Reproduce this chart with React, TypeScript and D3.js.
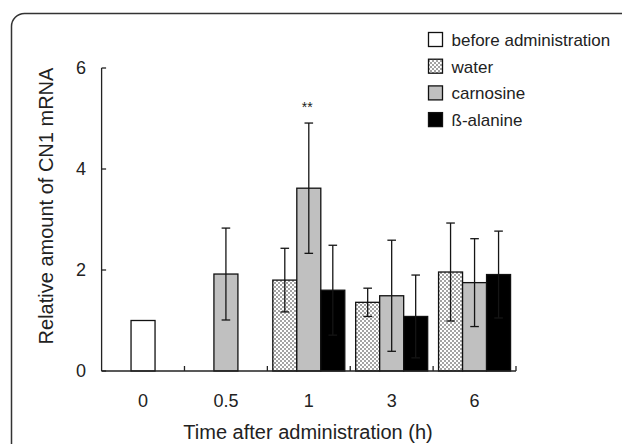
import React from "react";
import * as d3 from "d3";

const categories = ["0", "0.5", "1", "3", "6"];
const seriesNames = ["before administration", "water", "carnosine", "ß-alanine"];
const beforeValues = [1.0, null, null, null, null];
const beforeErrors = [null, null, null, null, null];
const waterValues = [null, null, 1.8, 1.36, 1.96];
const waterErrors = [null, null, 0.63, 0.28, 0.97];
const carnosineValues = [null, 1.92, 3.62, 1.49, 1.75];
const carnosineErrors = [null, 0.91, 1.29, 1.1, 0.87];
const alanineValues = [null, null, 1.6, 1.08, 1.91];
const alanineErrors = [null, null, 0.89, 0.82, 0.86];
const yTicks = [0, 2, 4, 6];
const significance = [{ category: "1", series: "carnosine", label: "**" }];

const W = 622;
const H = 444;
const FONT = "'Liberation Sans', Arial, Helvetica, sans-serif";

type Series = { name: string; values: (number | null)[]; errors: (number | null)[]; fill: string };

export default function App() {
  const series: Series[] = [
    { name: seriesNames[0], values: beforeValues, errors: beforeErrors, fill: "#ffffff" },
    { name: seriesNames[1], values: waterValues, errors: waterErrors, fill: "url(#dots)" },
    { name: seriesNames[2], values: carnosineValues, errors: carnosineErrors, fill: "#c0c0c0" },
    { name: seriesNames[3], values: alanineValues, errors: alanineErrors, fill: "#000000" },
  ];

  const x0 = 101.6;
  const x1 = 516;
  const yBase = 371;
  const yTop = 68;
  const x = d3.scaleBand<string>().domain(categories).range([x0, x1]).padding(0);
  const y = d3.scaleLinear().domain([0, 6]).range([yBase, yTop]);
  const barW = 24;

  const bars: any[] = [];
  const errs: any[] = [];
  const stars: any[] = [];
  categories.forEach((cat, ci) => {
    const present = series.filter((s) => s.values[ci] != null);
    const c = (x(cat) as number) + x.bandwidth() / 2;
    const inner = d3
      .scaleBand<string>()
      .domain(present.map((s) => s.name))
      .range([c - (present.length * barW) / 2, c + (present.length * barW) / 2]);
    present.forEach((s) => {
      const v = s.values[ci] as number;
      const bx = inner(s.name) as number;
      bars.push(
        <rect
          key={`b-${cat}-${s.name}`}
          x={bx}
          y={y(v)}
          width={inner.bandwidth()}
          height={yBase - y(v)}
          fill={s.fill}
          stroke="#111"
          strokeWidth={1.3}
        />
      );
      const e = s.errors[ci];
      const cx = bx + inner.bandwidth() / 2;
      if (e != null) {
        errs.push(
          <g key={`e-${cat}-${s.name}`} stroke="#151515" strokeWidth={1.3} fill="none">
            <line x1={cx} x2={cx} y1={y(v + e)} y2={y(v - e)} />
            <line x1={cx - 4.3} x2={cx + 4.3} y1={y(v + e)} y2={y(v + e)} />
            <line x1={cx - 4.3} x2={cx + 4.3} y1={y(v - e)} y2={y(v - e)} />
          </g>
        );
      }
      significance
        .filter((sg) => sg.category === cat && sg.series === s.name.split(" ")[0])
        .forEach((sg) => {
          stars.push(
            <text
              key={`s-${cat}`}
              x={cx - 1.5}
              y={y(v + (e ?? 0)) - 11}
              textAnchor="middle"
              fontSize={14}
              fontFamily={FONT}
              fill="#222"
            >
              {sg.label}
            </text>
          );
        });
    });
  });

  return (
    <div style={{ position: "absolute", left: 0, top: 0, width: W, height: H, background: "#fff" }}>
      <svg width={W} height={H} viewBox={`0 0 ${W} ${H}`} style={{ display: "block" }}>
        <defs>
          <pattern id="dots" patternUnits="userSpaceOnUse" width={4} height={4}>
            <rect width={4} height={4} fill="#fff" />
            <rect x={0.3} y={0.3} width={1.4} height={1.4} fill="#444" />
            <rect x={2.3} y={2.3} width={1.4} height={1.4} fill="#444" />
          </pattern>
        </defs>
        <rect x={0} y={0} width={W} height={H} fill="#fff" />
        <rect x={11.5} y={13.5} width={700} height={600} rx={13} ry={13} fill="none" stroke="#333" strokeWidth={1.5} />

        {bars}
        {errs}
        {stars}

        {/* y axis */}
        <line x1={x0} x2={x0} y1={yTop} y2={yBase} stroke="#222" strokeWidth={1.3} />
        {yTicks.map((t) => (
          <g key={`yt-${t}`}>
            <line x1={x0} x2={x0 + 4.5} y1={y(t)} y2={y(t)} stroke="#222" strokeWidth={1.3} />
            <text
              x={86}
              y={y(t)}
              dy="0.36em"
              textAnchor="end"
              fontSize={18}
              fontFamily={FONT}
              fill="#222"
            >
              {t}
            </text>
          </g>
        ))}

        {/* x axis */}
        <line x1={x0} x2={x1} y1={yBase} y2={yBase} stroke="#222" strokeWidth={1.3} />
        {categories.map((cat) => (
          <g key={`xt-${cat}`}>
            <line
              x1={(x(cat) as number) + x.bandwidth()}
              x2={(x(cat) as number) + x.bandwidth()}
              y1={yBase}
              y2={yBase - 5}
              stroke="#222"
              strokeWidth={1.3}
            />
            <text
              x={(x(cat) as number) + x.bandwidth() / 2}
              y={407}
              textAnchor="middle"
              fontSize={18}
              fontFamily={FONT}
              fill="#222"
            >
              {cat}
            </text>
          </g>
        ))}

        <text x={308} y={439} textAnchor="middle" fontSize={20} fontFamily={FONT} fill="#222">
          Time after administration (h)
        </text>
        <text
          transform={`translate(53,206) rotate(-90)`}
          textAnchor="middle"
          fontSize={20}
          fontFamily={FONT}
          fill="#222"
        >
          Relative amount of CN1 mRNA
        </text>

        {/* legend */}
        {series.map((s, i) => {
          const top = 32.5 + i * 26.7;
          return (
            <g key={`lg-${s.name}`}>
              <rect x={428.5} y={top} width={14} height={14} fill={s.fill} stroke="#111" strokeWidth={1.3} />
              <text x={451.5} y={top + 13.5} fontSize={17} fontFamily={FONT} fill="#222">
                {s.name}
              </text>
            </g>
          );
        })}
      </svg>
    </div>
  );
}
